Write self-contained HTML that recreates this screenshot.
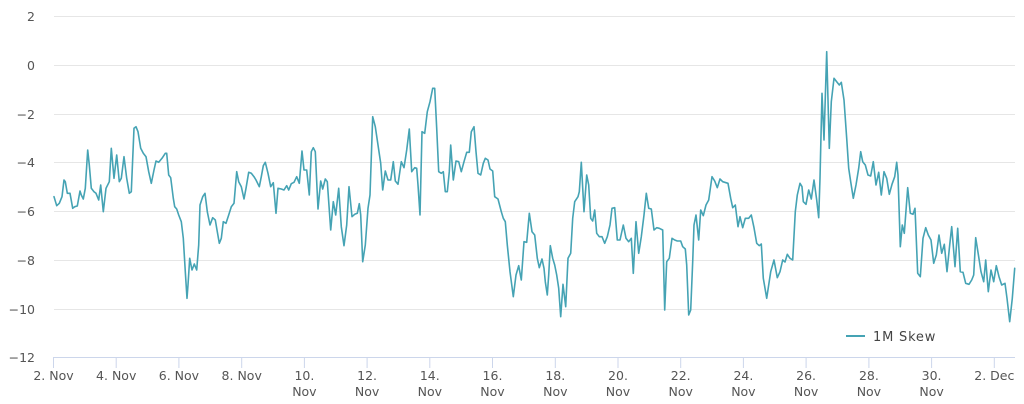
<!DOCTYPE html>
<html>
<head>
<meta charset="utf-8">
<style>
  html, body { margin: 0; padding: 0; background: #ffffff; }
  svg { display: block; }
  text { font-family: "DejaVu Sans", "Liberation Sans", sans-serif; fill: #555555; font-size: 12.5px; }
</style>
</head>
<body>
<svg width="1024" height="404" viewBox="0 0 1024 404" xmlns="http://www.w3.org/2000/svg">
  <rect x="0" y="0" width="1024" height="404" fill="#ffffff"/>
  <!-- grid lines -->
  <g stroke="#e6e6e6" stroke-width="1">
    <line x1="54" y1="16.5" x2="1015" y2="16.5"/>
    <line x1="54" y1="65.5" x2="1015" y2="65.5"/>
    <line x1="54" y1="114.5" x2="1015" y2="114.5"/>
    <line x1="54" y1="162.5" x2="1015" y2="162.5"/>
    <line x1="54" y1="211.5" x2="1015" y2="211.5"/>
    <line x1="54" y1="260.5" x2="1015" y2="260.5"/>
    <line x1="54" y1="309.5" x2="1015" y2="309.5"/>
  </g>
  <!-- x axis line -->
  <line x1="54" y1="357.5" x2="1015" y2="357.5" stroke="#ccd6eb" stroke-width="1"/>
  <!-- ticks -->
  <g stroke="#ccd6eb" stroke-width="1">
    <line x1="53.5" y1="357" x2="53.5" y2="368"/>
    <line x1="116.2" y1="357" x2="116.2" y2="368"/>
    <line x1="178.9" y1="357" x2="178.9" y2="368"/>
    <line x1="241.7" y1="357" x2="241.7" y2="368"/>
    <line x1="304.4" y1="357" x2="304.4" y2="368"/>
    <line x1="367.1" y1="357" x2="367.1" y2="368"/>
    <line x1="429.8" y1="357" x2="429.8" y2="368"/>
    <line x1="492.5" y1="357" x2="492.5" y2="368"/>
    <line x1="555.3" y1="357" x2="555.3" y2="368"/>
    <line x1="618" y1="357" x2="618" y2="368"/>
    <line x1="680.7" y1="357" x2="680.7" y2="368"/>
    <line x1="743.4" y1="357" x2="743.4" y2="368"/>
    <line x1="806.1" y1="357" x2="806.1" y2="368"/>
    <line x1="868.9" y1="357" x2="868.9" y2="368"/>
    <line x1="931.6" y1="357" x2="931.6" y2="368"/>
    <line x1="994.3" y1="357" x2="994.3" y2="368"/>
  </g>
  <!-- y labels -->
  <g text-anchor="end">
    <text x="35" y="21">2</text>
    <text x="35" y="70">0</text>
    <text x="35" y="119">−2</text>
    <text x="35" y="167">−4</text>
    <text x="35" y="216">−6</text>
    <text x="35" y="265">−8</text>
    <text x="35" y="314">−10</text>
    <text x="35" y="362">−12</text>
  </g>
  <!-- x labels -->
  <g text-anchor="middle">
    <text x="53.5" y="380">2. Nov</text>
    <text x="116.2" y="380">4. Nov</text>
    <text x="178.9" y="380">6. Nov</text>
    <text x="241.7" y="380">8. Nov</text>
    <text x="304.4" y="380">10.</text><text x="304.4" y="396">Nov</text>
    <text x="367.1" y="380">12.</text><text x="367.1" y="396">Nov</text>
    <text x="429.8" y="380">14.</text><text x="429.8" y="396">Nov</text>
    <text x="492.5" y="380">16.</text><text x="492.5" y="396">Nov</text>
    <text x="555.3" y="380">18.</text><text x="555.3" y="396">Nov</text>
    <text x="618" y="380">20.</text><text x="618" y="396">Nov</text>
    <text x="680.7" y="380">22.</text><text x="680.7" y="396">Nov</text>
    <text x="743.4" y="380">24.</text><text x="743.4" y="396">Nov</text>
    <text x="806.1" y="380">26.</text><text x="806.1" y="396">Nov</text>
    <text x="868.9" y="380">28.</text><text x="868.9" y="396">Nov</text>
    <text x="931.6" y="380">30.</text><text x="931.6" y="396">Nov</text>
    <text x="994.3" y="380">2. Dec</text>
  </g>
  <!-- series -->
  <polyline fill="none" stroke="#45a3b4" stroke-width="1.6" stroke-linejoin="round" stroke-linecap="round" points="
54,196.7 56.7,205.7 59.3,203.3 62,196.7 64,180 65.3,181.7 67.3,193.3 70,193.3 72.7,208.3 74.7,206.7 77.3,206 80,191 81.3,195 83.3,199 85.3,188.3 87.7,150 89.3,165 91.3,188.3 94,191.7 96,193.3 98.7,200 100.7,185 103.3,211.7 106,188.3 109.3,181.7 111.3,148.3 114,178.3 116.7,155 119.3,181.7 121.3,178.3 124,156.7 126.7,178.3 129.3,193.3 131.3,191.7 134,128.3 136,126.7 138,131.7 140.7,148.3 143.3,153.3 146,156.7 148.7,171.7 151.3,183.3 154,170 156,161 158.7,162.3 162,158.3 165.3,153.3 166.7,153.3 168.7,175 170.7,177.7 173.3,198.3
174.7,206.7 176.7,209 178.7,215 181.3,221.7 183.3,238.3 185.3,271.7 187,298.3 188,285 189.7,258.3 192,270 194.3,264 196.7,270 198.7,245 200,205 202.7,196.7 205,193.3 207.3,211.7 210,225 212.7,217.7 215.3,220 217.3,231.7 219.3,243.3 221.3,238.3 223.3,221.7 226,223.3 228.7,215 231.3,206.7 234,203.3 236.7,171.7 238.7,181.7 241.3,186.7 244,199 246,188.3 248.7,172.3 251.3,173.3 254,176.7 256,180 259.3,186.7 261.3,176.7 263.3,165.7 265.3,162.3 268,173.3 270.7,186.7 273.3,182.7 276,213.3 278,188.3 281.3,189 284,190 286.7,185.7 288.7,190 291.3,183.7 294,182.3
296.7,176.7 299.3,183.3 302,151 304,170 306.7,170 309.3,195 311.3,151.7 313.3,147.7 315.3,151.7 318,209 320.7,181 322.7,189 325.3,179 327.3,181.7 330.7,230 333.3,201.7 335.7,215 338.7,188.3 341.3,226.7 344,245.7 346.7,225 349,186.7 352,216.7 354.7,214.3 357.3,213.3 359.3,203.7 360.7,215 362.7,261.7 365.3,245 368,208.3 370,195 372.7,116.7 375.3,126.7 378,145 380.7,163.3 382.7,190 385.3,171 388,180 390.7,180 393.3,161.7 395.3,181 398,184.3 401.3,161.7 404,167.7 406.7,150 409.3,129 411.7,171.7 414.7,167.7
416.7,168.3 418,185 420,215 422,131.7 424.7,133.3 427.3,111.7 430,101.7 432.7,88.3 434.7,88.3 436.7,128.3 438.7,171.7 441.3,173.3 443.3,171.7 445.3,191.7 447.3,191.7 449.3,171.7 450.7,145 453.3,180 456,161 458.7,161.7 461.3,171.7 464,161.7 466.7,152.3 469.3,152.3 471.3,131.7 474,126.7 476,151.7 478,173.3 480.7,175 483.3,163.3 485.3,158.3 488,160 490,169 492.7,171 494.7,196.7 498,199 501.3,211.7 503.3,218.3 505.3,221.7 507.3,245 510,271.7 513.3,296.7 516,275 518.7,265.7 521.3,280 524,241.7 526.7,242.3 529.3,213.3 532,231.7 534.7,235 537.3,258.3 539.3,267.7
542,259 544,268.3 545.3,281.7 547.3,295 548.7,275 550.3,245.7 552.7,258.3 554.7,265 556.7,275 558.7,288.3 560.7,316.7 563,284.3 565.7,306.7 568,258.3 570.7,253.3 572.7,218.3 574.7,201.7 578,196.7 579.3,191.7 581.3,162.3 584,211.7 586.7,175 588.7,185 590.7,218.3 592.7,221 594.7,210 596.7,233.3 599.3,236.7 602,236.7 604.7,243.3 607.3,236.7 610,225 612,208.3 614.7,207.7 617.3,240 620,240 623.3,225 626,238.3 628.7,241.7 631.3,238.3 633.3,273.3 636,221.7 638.7,253.3 641.3,236.7 644,215 646.3,193.3 648.7,208.3 651.3,209 654,230 656.7,227.7 659.3,228.3 662.7,230
664.7,310 666.7,261.7 669.3,258.3 672,238.3 674.7,240 677.3,241 680.7,241 682.7,246.7 685.3,249 686.7,265 688.7,315 690.7,310 692.7,261.7 694,225 696,215 698.7,240 700.7,210 703.3,215.7 706,205 708.7,200 712,176.7 714.7,181 717.3,187.7 720,179 722.7,181.7 728,183.3 730.7,198.3 732.7,207.7 735.3,205 738,226.7 740,216.7 742.7,227.7 745.3,218.3 748.7,218.3 751.3,215 754,227.7 756.7,243.3 759.3,245.7 761.3,244 763.3,278.3 766.7,298.3 768.7,285 770.7,271.7 774,260 777.3,277.7 780,271.7 782.7,260
785,262 787.3,254.3 790,258.3 792.7,260 795.3,211.7 797.3,195 800,183.3 802,186.7 803.3,201.7 806,204.3 808.7,190 811.3,199 814,180 816.7,200 818.7,217.7 820,178.3 822,93.3 824,140 826.7,51.7 829.3,148.3 831.3,101.7 834,78.3 836.7,81.7 839.3,85 841.3,82.3 844,100 846.7,138.3 848.7,168.3 850.7,181.7 853.3,198.3 856,185 858.7,168.3 860.7,151.7 862.7,161.7 865.3,165 868,175 870.7,176 873.3,161.7 876,185 878.7,172.3 881.3,195 884,171.7 886.7,178.3 889.3,194.3 892,184.3 894.7,176.7 896.7,162.3 898,175
900.3,246.7 902.3,225 904.3,233.3 907.7,187.7 910.3,213.3 913,214.3 915,208.3 917.7,273.3 920.3,276.7 923,238.3 925.7,227.7 928.3,235 931,240 933.7,263.3 936.3,255 939,235 941.7,253.3 944.3,244.3 947,271.7 949.7,245 951.7,226.7 955,266.7 957.7,228.3 960.3,271.7 963,272.3 965.7,283.3 969,284.3 971.7,280 973.7,275 975.7,237.7 978.3,254.3 981,271.7 983.7,281.7 985.7,260 988.3,291.7 991,270 993.7,281.7 996.3,265.7 999,276.7 1001.7,285 1005,283.3 1007,298.3 1009.7,321.7 1012.3,298.3 1014.7,268.3"/>
  <!-- legend -->
  <line x1="846" y1="336" x2="865" y2="336" stroke="#45a3b4" stroke-width="2"/>
  <text x="873" y="341" style="font-size:13px; letter-spacing:0.8px; fill:#444444">1M Skew</text>
</svg>
</body>
</html>
